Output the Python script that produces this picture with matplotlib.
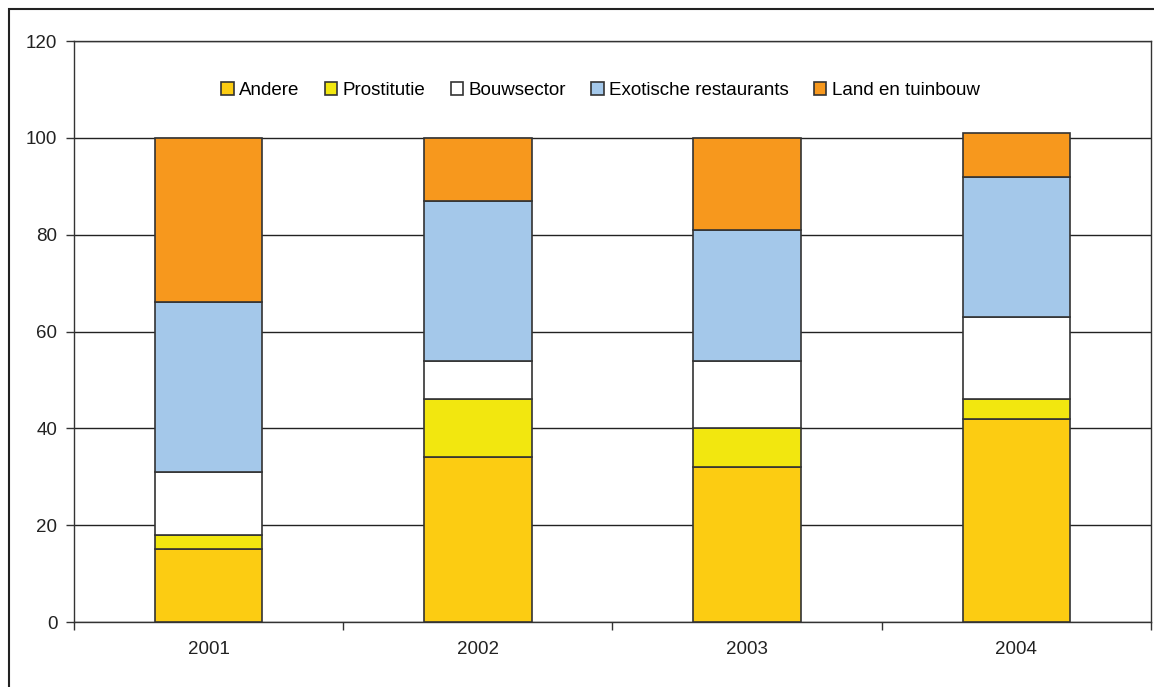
import numpy as np
import matplotlib
matplotlib.use('Agg')
import matplotlib.pyplot as plt
from matplotlib.patches import Rectangle

plt.rcParams['font.family'] = ['Liberation Sans', 'DejaVu Sans']

# Share per sector, per year
years = ['2001', '2002', '2003', '2004']
sectors = ['Andere', 'Prostitutie', 'Bouwsector', 'Exotische restaurants', 'Land en tuinbouw']
andere = [15, 34, 32, 42]
prostitutie = [3, 12, 8, 4]
bouwsector = [13, 8, 14, 17]
exotische = [35, 33, 27, 29]
land_tuinbouw = [34, 13, 19, 9]

colors = ['#FCCC12', '#F2E70F', '#FFFFFF', '#A4C8EA', '#F7981D']
edge = '#333333'

fig = plt.figure(figsize=(11.54, 6.87), dpi=100)
ax = fig.add_axes([0.0641, 0.0946, 0.9333, 0.8457])

x = np.arange(len(years))
bottom = np.zeros(len(years))
for name, vals, col in zip(sectors, [andere, prostitutie, bouwsector, exotische, land_tuinbouw], colors):
    ax.bar(x, vals, width=0.4, bottom=bottom, color=col, edgecolor=edge,
           linewidth=1.2, label=name, zorder=3)
    bottom += np.array(vals)

ax.set_xlim(-0.5, len(years) - 0.5)
ax.set_ylim(0, 120)
ax.set_yticks(range(0, 121, 20))
ax.set_xticks(x)
ax.set_xticklabels(years)
ax.set_xticks(np.arange(-0.5, len(years)), minor=True)
ax.tick_params(axis='x', which='major', length=0, pad=14, labelsize=13.5, colors='#222222')
ax.tick_params(axis='x', which='minor', length=6, width=1, color='#333333')
ax.tick_params(axis='y', length=6, width=1, color='#333333', pad=6, labelsize=13.5,
               labelcolor='#222222')

ax.grid(axis='y', color='#222222', linewidth=1, zorder=0)
for s in ax.spines.values():
    s.set_color('#333333')
    s.set_linewidth(1)

ax.legend(loc='center', bbox_to_anchor=(0.489, 0.915), ncol=5, frameon=False,
          fontsize=13.5, handlelength=0.65, handleheight=0.65, handletextpad=0.3,
          columnspacing=1.35)

# border around the whole figure
fig.patches.append(Rectangle((9 / 1154, -0.05), 1.2, 0.9869 + 0.05,
                             transform=fig.transFigure, fill=False,
                             edgecolor='#222222', linewidth=1.5))

fig.savefig('out.png', dpi=100)
